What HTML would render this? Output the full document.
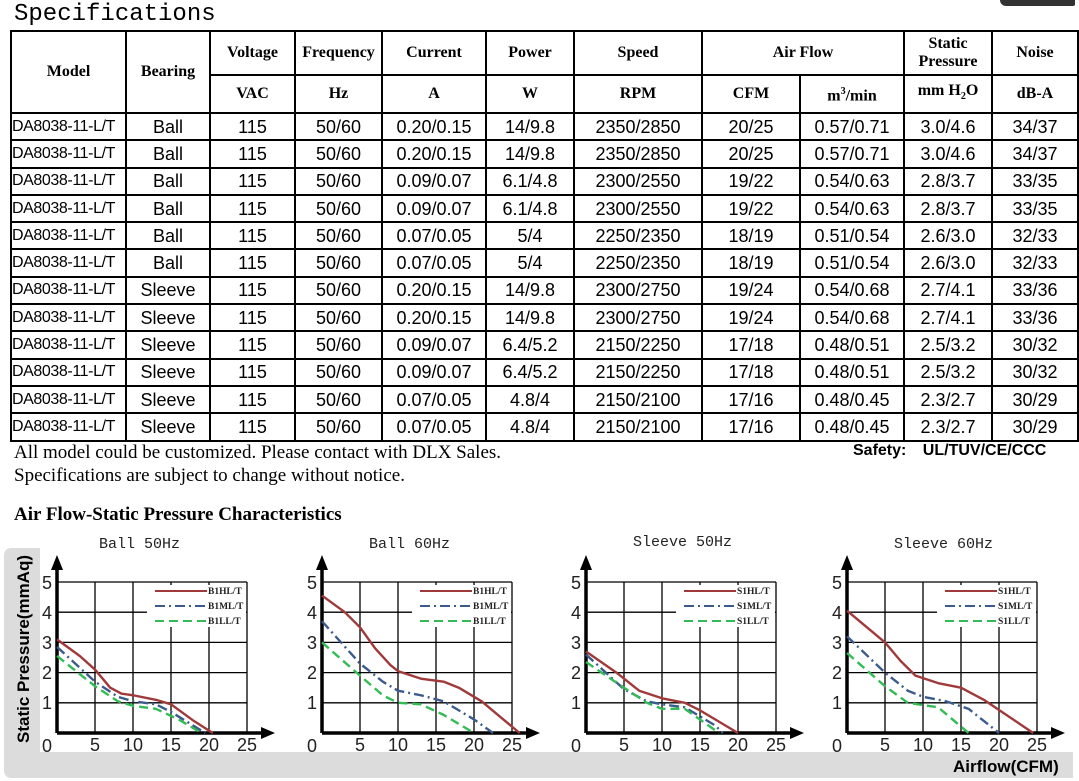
<!DOCTYPE html>
<html><head><meta charset="utf-8"><style>
body{margin:0;width:1079px;height:781px;background:#fff;position:relative;overflow:hidden;font-family:"Liberation Sans",sans-serif}
.t{position:absolute;left:10px;top:30px;border-collapse:collapse;table-layout:fixed}
.t td{border:2px solid #000;padding:0;text-align:center;font-size:18px;white-space:nowrap;overflow:hidden;line-height:20px}
.t tr.d{height:27.3px}
.t td.m{font-size:16px;text-align:left;letter-spacing:-0.4px}
.t .h td{font-family:"Liberation Serif",serif;font-weight:bold;font-size:16px;line-height:18px}
</style></head><body>
<div style="position:absolute;left:14px;top:2px;font-family:'Liberation Mono',monospace;font-size:24px;line-height:26px">Specifications</div>
<div style="position:absolute;left:1000px;top:0;width:75px;height:6px;background:#333;border-radius:0 0 10px 30px"></div>
<table class="t">
<colgroup><col style="width:115px"><col style="width:84px"><col style="width:85px"><col style="width:87px"><col style="width:104px"><col style="width:88px"><col style="width:128px"><col style="width:98px"><col style="width:104px"><col style="width:88px"><col style="width:86px"></colgroup>
<tr class="h" style="height:44px"><td rowspan="2">Model</td><td rowspan="2">Bearing</td><td>Voltage</td><td>Frequency</td><td>Current</td><td>Power</td><td>Speed</td><td colspan="2">Air Flow</td><td>Static<br>Pressure</td><td>Noise</td></tr>
<tr class="h" style="height:38px"><td>VAC</td><td>Hz</td><td>A</td><td>W</td><td>RPM</td><td>CFM</td><td>m<sup style="font-size:10px">3</sup>/min</td><td>mm H<sub style="font-size:10px">2</sub>O</td><td>dB-A</td></tr>
<tr class="d"><td class="m">DA8038-11-L/T</td><td>Ball</td><td>115</td><td>50/60</td><td>0.20/0.15</td><td>14/9.8</td><td>2350/2850</td><td>20/25</td><td>0.57/0.71</td><td>3.0/4.6</td><td>34/37</td></tr>
<tr class="d"><td class="m">DA8038-11-L/T</td><td>Ball</td><td>115</td><td>50/60</td><td>0.20/0.15</td><td>14/9.8</td><td>2350/2850</td><td>20/25</td><td>0.57/0.71</td><td>3.0/4.6</td><td>34/37</td></tr>
<tr class="d"><td class="m">DA8038-11-L/T</td><td>Ball</td><td>115</td><td>50/60</td><td>0.09/0.07</td><td>6.1/4.8</td><td>2300/2550</td><td>19/22</td><td>0.54/0.63</td><td>2.8/3.7</td><td>33/35</td></tr>
<tr class="d"><td class="m">DA8038-11-L/T</td><td>Ball</td><td>115</td><td>50/60</td><td>0.09/0.07</td><td>6.1/4.8</td><td>2300/2550</td><td>19/22</td><td>0.54/0.63</td><td>2.8/3.7</td><td>33/35</td></tr>
<tr class="d"><td class="m">DA8038-11-L/T</td><td>Ball</td><td>115</td><td>50/60</td><td>0.07/0.05</td><td>5/4</td><td>2250/2350</td><td>18/19</td><td>0.51/0.54</td><td>2.6/3.0</td><td>32/33</td></tr>
<tr class="d"><td class="m">DA8038-11-L/T</td><td>Ball</td><td>115</td><td>50/60</td><td>0.07/0.05</td><td>5/4</td><td>2250/2350</td><td>18/19</td><td>0.51/0.54</td><td>2.6/3.0</td><td>32/33</td></tr>
<tr class="d"><td class="m">DA8038-11-L/T</td><td>Sleeve</td><td>115</td><td>50/60</td><td>0.20/0.15</td><td>14/9.8</td><td>2300/2750</td><td>19/24</td><td>0.54/0.68</td><td>2.7/4.1</td><td>33/36</td></tr>
<tr class="d"><td class="m">DA8038-11-L/T</td><td>Sleeve</td><td>115</td><td>50/60</td><td>0.20/0.15</td><td>14/9.8</td><td>2300/2750</td><td>19/24</td><td>0.54/0.68</td><td>2.7/4.1</td><td>33/36</td></tr>
<tr class="d"><td class="m">DA8038-11-L/T</td><td>Sleeve</td><td>115</td><td>50/60</td><td>0.09/0.07</td><td>6.4/5.2</td><td>2150/2250</td><td>17/18</td><td>0.48/0.51</td><td>2.5/3.2</td><td>30/32</td></tr>
<tr class="d"><td class="m">DA8038-11-L/T</td><td>Sleeve</td><td>115</td><td>50/60</td><td>0.09/0.07</td><td>6.4/5.2</td><td>2150/2250</td><td>17/18</td><td>0.48/0.51</td><td>2.5/3.2</td><td>30/32</td></tr>
<tr class="d"><td class="m">DA8038-11-L/T</td><td>Sleeve</td><td>115</td><td>50/60</td><td>0.07/0.05</td><td>4.8/4</td><td>2150/2100</td><td>17/16</td><td>0.48/0.45</td><td>2.3/2.7</td><td>30/29</td></tr>
<tr class="d"><td class="m">DA8038-11-L/T</td><td>Sleeve</td><td>115</td><td>50/60</td><td>0.07/0.05</td><td>4.8/4</td><td>2150/2100</td><td>17/16</td><td>0.48/0.45</td><td>2.3/2.7</td><td>30/29</td></tr>
</table>
<div style="position:absolute;left:14px;top:441px;font-family:'Liberation Serif',serif;font-size:19px;line-height:23px">All model could be customized. Please contact with DLX Sales.<br>Specifications are subject to change without notice.</div>
<div style="position:absolute;left:853px;top:442px;font-weight:bold;font-size:16px;word-spacing:12px">Safety: UL/TUV/CE/CCC</div>
<div style="position:absolute;left:14px;top:504px;font-family:'Liberation Serif',serif;font-weight:bold;font-size:19px">Air Flow-Static Pressure Characteristics</div>

<svg width="1079" height="781" style="position:absolute;left:0;top:0" font-family="Liberation Sans, sans-serif">
<defs>
<g id="grid" stroke="#000" stroke-width="1.3" fill="none">
<path d="M38 0V-151M76 0V-151M114 0V-151M152 0V-151M190 0V-151M0 -30.2H190M0 -60.4H190M0 -90.6H190M0 -120.8H190M0 -151H190"/>
<rect x="90" y="-148" width="99" height="42" fill="#fff" stroke="none"/>
<path d="M0 0H208M0 0V-168" stroke-width="3.5"/>
<path d="M218 0L204 -6V6Z M0 -178L-6 -163H6Z" fill="#000" stroke="none"/>
<g fill="#222" stroke="none" font-size="18" text-anchor="middle">
<text x="-10" y="19">0</text><text x="38" y="18">5</text><text x="76" y="18">10</text><text x="114" y="18">15</text><text x="152" y="18">20</text><text x="190" y="18">25</text>
<text x="-10" y="-24">1</text><text x="-10" y="-54">2</text><text x="-10" y="-84">3</text><text x="-10" y="-114">4</text><text x="-10" y="-144">5</text>
</g>
<path d="M98 -142H150" stroke="#a0393a" stroke-width="2"/>
<path d="M98 -127H150" stroke="#3b5b8c" stroke-width="2" stroke-dasharray="10 4 2 4"/>
<path d="M98 -112H150" stroke="#33bb55" stroke-width="2" stroke-dasharray="9 5"/>
</g>
</defs>
<path d="M12 548H40V752H1073V778H12Q4 778 4 770V556Q4 548 12 548Z" fill="#dcdcdc"/>
<rect x="40" y="548" width="1040" height="204" fill="#fff"/>
<text transform="translate(29,743) rotate(-90)" font-weight="bold" font-size="17">Static Pressure(mmAq)</text>
<text x="953" y="772" font-weight="bold" font-size="17">Airflow(CFM)</text>
<g font-family="Liberation Mono, monospace" font-size="15" fill="#222">
<text x="99" y="548">Ball 50Hz</text><text x="369" y="548">Ball 60Hz</text><text x="633" y="546">Sleeve 50Hz</text><text x="894" y="548">Sleeve 60Hz</text>
</g>
<use href="#grid" x="57" y="733"/>
<use href="#grid" x="322" y="733"/>
<use href="#grid" x="586" y="733"/>
<use href="#grid" x="847" y="733"/>
<g font-family="Liberation Serif, serif" font-weight="bold" font-size="9.5" fill="#222">
<text x="208" y="594">B1HL/T</text><text x="208" y="609">B1ML/T</text><text x="208" y="624">B1LL/T</text>
<text x="473" y="594">B1HL/T</text><text x="473" y="609">B1ML/T</text><text x="473" y="624">B1LL/T</text>
<text x="737" y="594">S1HL/T</text><text x="737" y="609">S1ML/T</text><text x="737" y="624">S1LL/T</text>
<text x="998" y="594">S1HL/T</text><text x="998" y="609">S1ML/T</text><text x="998" y="624">S1LL/T</text>
</g>
<g fill="none" stroke-width="2.4" stroke-linejoin="round">
<g transform="translate(57,733) scale(7.6,-30.2)">
<polyline vector-effect="non-scaling-stroke" stroke="#a0393a" points="0,3.1 3,2.55 5,2.1 7,1.5 8.5,1.3 10,1.25 13,1.1 15,0.95 18,0.4 20.5,0"/>
<polyline vector-effect="non-scaling-stroke" stroke="#3b5b8c" stroke-dasharray="10 4 2 4" points="0,2.85 5,1.7 8,1.2 10,1.05 13,0.95 15,0.7 19.5,0"/>
<polyline vector-effect="non-scaling-stroke" stroke="#33bb55" stroke-dasharray="9 5" points="0,2.55 5,1.55 8,1.05 10,0.9 13,0.8 16,0.45 19,0"/>
</g>
<g transform="translate(322,733) scale(7.6,-30.2)">
<polyline vector-effect="non-scaling-stroke" stroke="#a0393a" points="0,4.55 3,4 5,3.5 7,2.8 9,2.25 10,2.05 13,1.8 16,1.7 18,1.5 21,1.05 26,0"/>
<polyline vector-effect="non-scaling-stroke" stroke="#3b5b8c" stroke-dasharray="10 4 2 4" points="0,3.7 5,2.3 8,1.7 10,1.4 13,1.25 16,1.05 20,0.45 22.5,0"/>
<polyline vector-effect="non-scaling-stroke" stroke="#33bb55" stroke-dasharray="9 5" points="0,3 5,1.9 8,1.25 10,1.0 13,0.95 16,0.6 20,0"/>
</g>
<g transform="translate(586,733) scale(7.6,-30.2)">
<polyline vector-effect="non-scaling-stroke" stroke="#a0393a" points="0,2.7 4,2 7,1.4 10,1.15 13,1.0 15,0.75 20,0"/>
<polyline vector-effect="non-scaling-stroke" stroke="#3b5b8c" stroke-dasharray="10 4 2 4" points="0,2.6 5,1.45 8,1.05 10,0.95 13,0.85 17,0.25 18,0"/>
<polyline vector-effect="non-scaling-stroke" stroke="#33bb55" stroke-dasharray="9 5" points="0,2.35 5,1.5 8,1.0 10,0.8 13,0.8 17.5,0"/>
</g>
<g transform="translate(847,733) scale(7.6,-30.2)">
<polyline vector-effect="non-scaling-stroke" stroke="#a0393a" points="0,4.05 5,3 7,2.4 9,1.9 12,1.65 15,1.5 18,1.1 24.5,0"/>
<polyline vector-effect="non-scaling-stroke" stroke="#3b5b8c" stroke-dasharray="10 4 2 4" points="0,3.2 5,2 8,1.4 10,1.2 13,1.05 16,0.8 20,0"/>
<polyline vector-effect="non-scaling-stroke" stroke="#33bb55" stroke-dasharray="9 5" points="0,2.65 5,1.55 8,1.0 12,0.85 16,0"/>
</g>
</g>
</svg>
</body></html>
